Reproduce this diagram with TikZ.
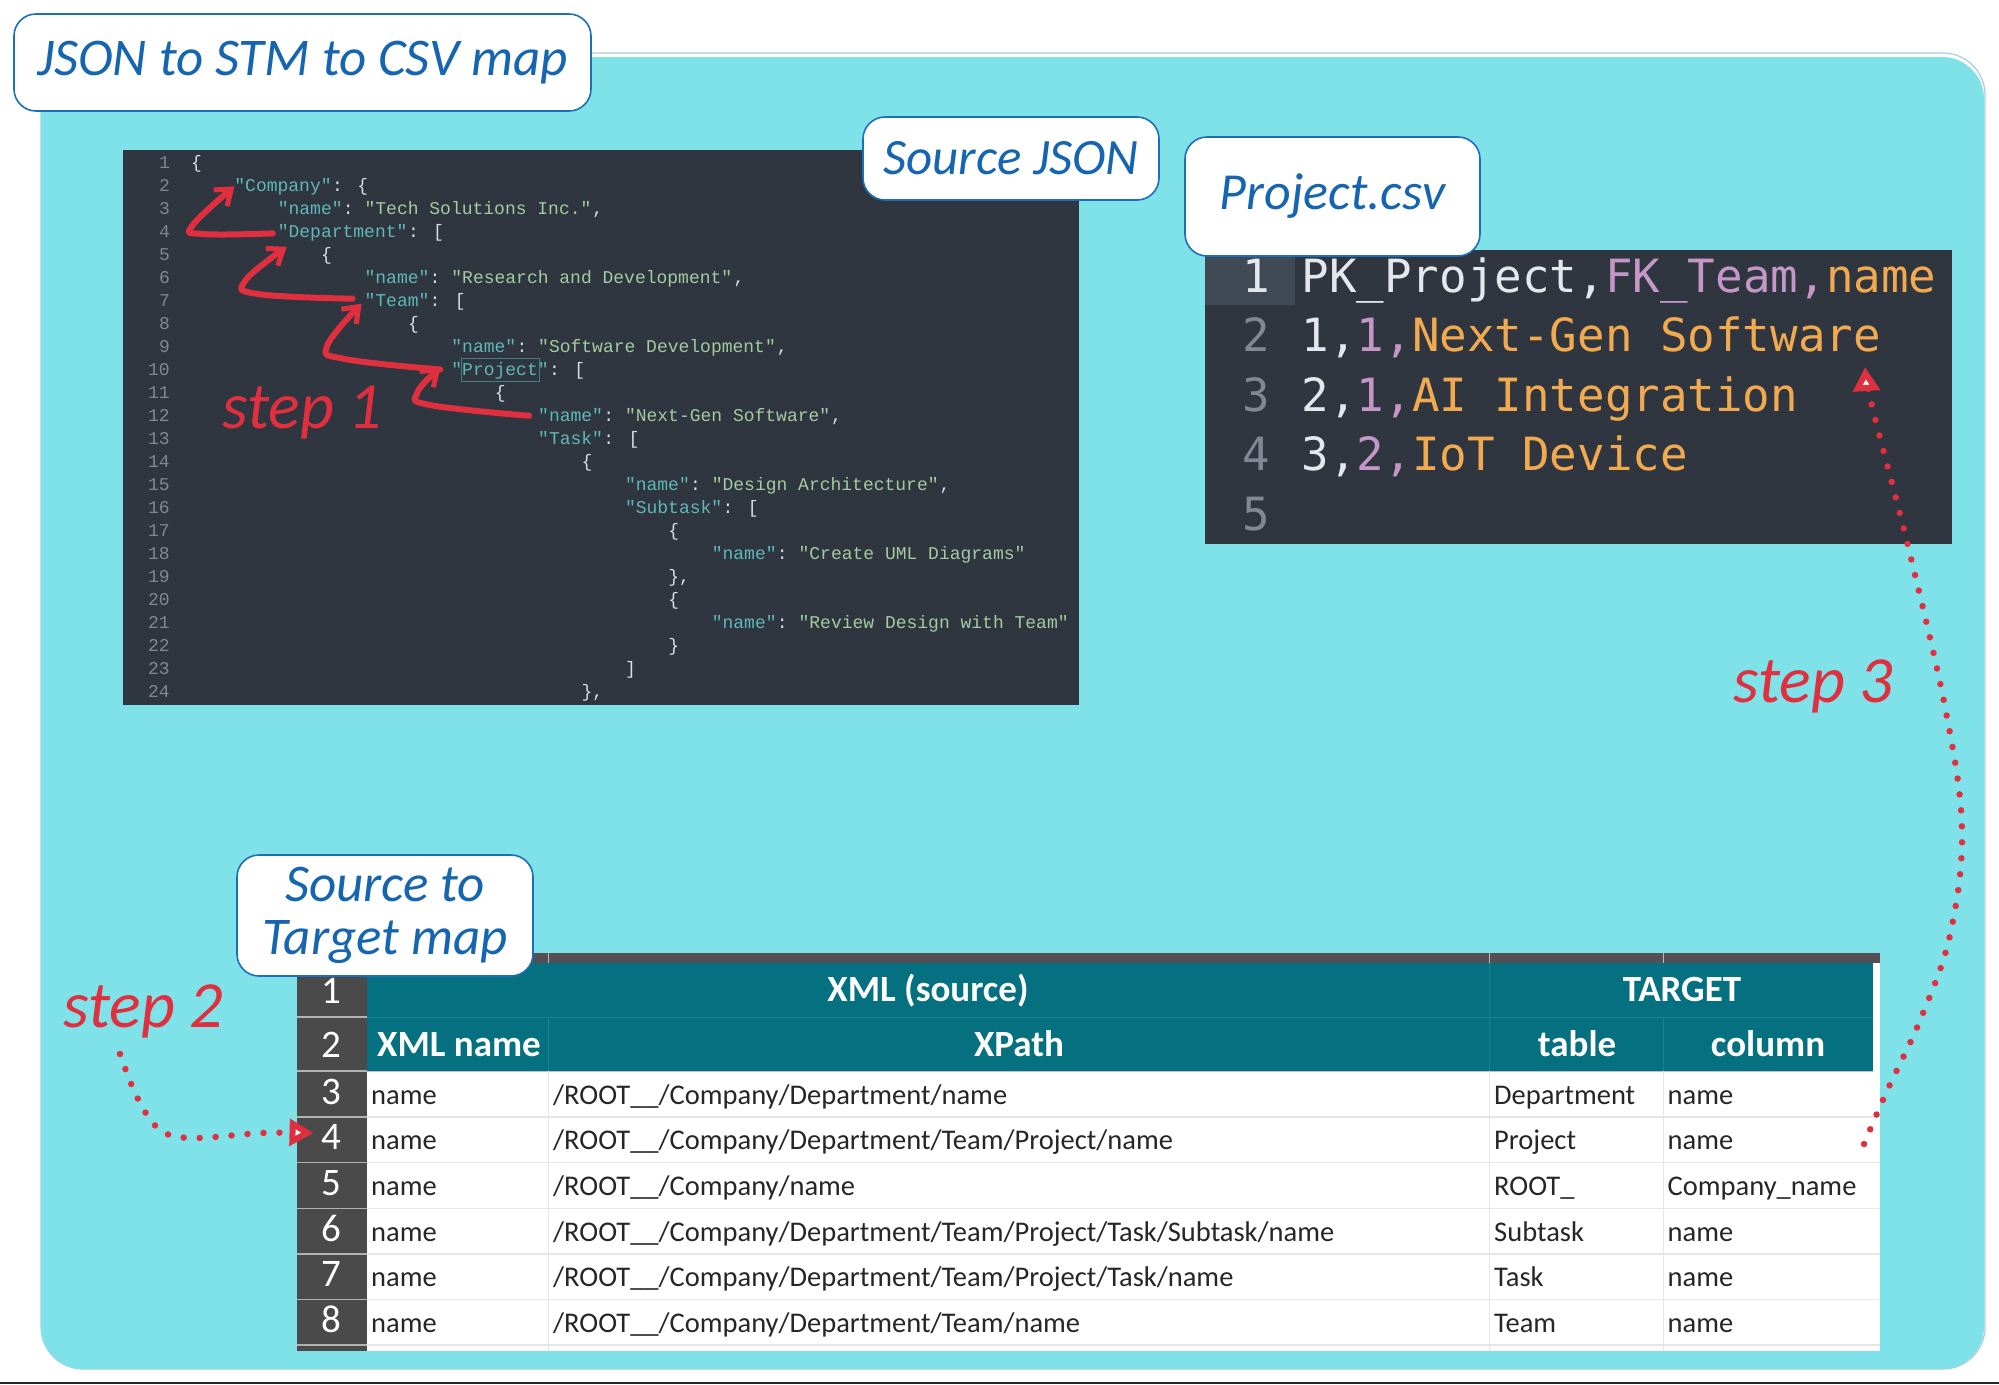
\documentclass[tikz,border=0pt]{standalone}
\usepackage{fontspec}
\usetikzlibrary{arrows.meta,calc}
\setmainfont{Carlito}
\newfontfamily\jsonfont{Liberation Mono}
\newfontfamily\csvfont{DejaVu Sans Mono}
\newcommand{\fsz}[1]{\fontsize{#1}{#1}\selectfont}
\definecolor{cyanbg}{HTML}{80E2E9}
\definecolor{edgeline}{HTML}{A9CCE0}
\definecolor{darkbg}{HTML}{2F3640}
\definecolor{gutterhi}{HTML}{3F4A55}
\definecolor{numgray}{HTML}{808893}
\definecolor{jkey}{HTML}{5FB8B8}
\definecolor{jval}{HTML}{A3CBA0}
\definecolor{jpun}{HTML}{D8DEE9}
\definecolor{cwhite}{HTML}{E4E7EC}
\definecolor{cpink}{HTML}{C597C8}
\definecolor{corange}{HTML}{F2AA50}
\definecolor{blueline}{HTML}{1B6FB8}
\definecolor{bluetext}{HTML}{1565B0}
\definecolor{redink}{HTML}{E0303F}
\definecolor{teal1}{HTML}{05707F}
\definecolor{tealsep}{HTML}{1B8090}
\definecolor{gutter}{HTML}{4A4A4A}
\definecolor{topbar}{HTML}{554E55}
\definecolor{rowsep}{HTML}{E6E6E6}
\tikzset{
  tok/.style={inner sep=0pt,outer sep=0pt,anchor=base west},
  jnum/.style={inner sep=0pt,anchor=base east,text=numgray,font=\jsonfont\fsz{18}},
  callout/.style={draw=blueline,line width=1.6pt,fill=white,rounded corners=22pt,inner sep=0pt,
     align=center,text=bluetext,font=\itshape\fsz{53}},
  stepl/.style={inner sep=0pt,anchor=base west,text=redink,font=\itshape\fsz{66}},
  redcurve/.style={draw=redink,line width=6pt,line cap=round,line join=round,-{Straight Barb[length=14pt,width=21pt,line width=5pt]}},
  reddots/.style={draw=redink,line width=6.5pt,line cap=round,dash pattern=on 0pt off 16pt,
     -{Triangle[length=24pt,width=26pt,fill=white,color=redink,line width=6pt]}},
  hdr/.style={inner sep=0pt,anchor=base,text=white,font=\bfseries\fsz{37}},
  rnum/.style={inner sep=0pt,anchor=base,text=white,font=\fsz{39}},
  cellt/.style={inner sep=0pt,anchor=base west,text=black!85,font=\fsz{28.5}},
}
% JSON token: name, line, column, colour, text
\newcommand{\jt}[5]{\node[tok,text=#4,font=\jsonfont\fsz{18}] (#1) at ({191+#3*10.85},{168+(#2-1)*23.02}) {#5};}
% CSV token: name, baseline y, column, colour, text
\newcommand{\ct}[5]{\node[tok,text=#4,font=\csvfont\fsz{45.8}] (#1) at ({1301.6+#3*27.6},#2) {#5};}
\begin{document}
\begin{tikzpicture}[x=1pt,y=-1pt]
\useasboundingbox (0,0) rectangle (1999,1384);
\fill[white] (0,0) rectangle (1999,1384);
\fill[black!85] (0,1382) rectangle (1999,1384);
% panel
\draw[edgeline,line width=1.2pt,rounded corners=42pt] (41,53) -- (1985,53) -- (1985,1369) -- (41,1369) -- cycle;
\fill[cyanbg,rounded corners=42pt] (41,57) rectangle (1984,1369);

% JSON editor
\fill[darkbg] (123,150) rectangle (1079,705);
\foreach \n in {1,...,24} \node[jnum] (jn\n) at (170,{168+(\n-1)*23.02}) {\n};
\jt{a1}{1}{0}{jpun}{\{}
\jt{kCompany}{2}{4}{jkey}{"Company"}\jt{a2}{2}{13}{jpun}{: \{}
\jt{a3}{3}{8}{jkey}{"name"}\jt{b3}{3}{14}{jpun}{:}\jt{c3}{3}{16}{jval}{"Tech Solutions Inc."}\jt{d3}{3}{37}{jpun}{,}
\jt{kDept}{4}{8}{jkey}{"Department"}\jt{a4}{4}{20}{jpun}{: [}
\jt{a5}{5}{12}{jpun}{\{}
\jt{a6}{6}{16}{jkey}{"name"}\jt{b6}{6}{22}{jpun}{:}\jt{c6}{6}{24}{jval}{"Research and Development"}\jt{d6}{6}{50}{jpun}{,}
\jt{kTeam}{7}{16}{jkey}{"Team"}\jt{a7}{7}{22}{jpun}{: [}
\jt{a8}{8}{20}{jpun}{\{}
\jt{a9}{9}{24}{jkey}{"name"}\jt{b9}{9}{30}{jpun}{:}\jt{c9}{9}{32}{jval}{"Software Development"}\jt{d9}{9}{54}{jpun}{,}
\jt{kProject}{10}{24}{jkey}{"Project"}\jt{a10}{10}{33}{jpun}{: [}
\node[draw=jkey!70!black,line width=1pt,inner sep=0pt,minimum width=78pt,minimum height=23pt] (prjbox) at (500,369.5) {};
\jt{a11}{11}{28}{jpun}{\{}
\jt{kName}{12}{32}{jkey}{"name"}\jt{b12}{12}{38}{jpun}{:}\jt{c12}{12}{40}{jval}{"Next-Gen Software"}\jt{d12}{12}{59}{jpun}{,}
\jt{a13}{13}{32}{jkey}{"Task"}\jt{b13}{13}{38}{jpun}{: [}
\jt{a14}{14}{36}{jpun}{\{}
\jt{a15}{15}{40}{jkey}{"name"}\jt{b15}{15}{46}{jpun}{:}\jt{c15}{15}{48}{jval}{"Design Architecture"}\jt{d15}{15}{69}{jpun}{,}
\jt{a16}{16}{40}{jkey}{"Subtask"}\jt{b16}{16}{49}{jpun}{: [}
\jt{a17}{17}{44}{jpun}{\{}
\jt{a18}{18}{48}{jkey}{"name"}\jt{b18}{18}{54}{jpun}{:}\jt{c18}{18}{56}{jval}{"Create UML Diagrams"}
\jt{a19}{19}{44}{jpun}{\},}
\jt{a20}{20}{44}{jpun}{\{}
\jt{a21}{21}{48}{jkey}{"name"}\jt{b21}{21}{54}{jpun}{:}\jt{c21}{21}{56}{jval}{"Review Design with Team"}
\jt{a22}{22}{44}{jpun}{\}}
\jt{a23}{23}{40}{jpun}{]}
\jt{a24}{24}{36}{jpun}{\},}

% CSV editor
\fill[darkbg] (1205,250) rectangle (1952,544);
\fill[gutterhi] (1205,250) rectangle (1295,305);
\node[inner sep=0pt,anchor=base,text=cwhite,font=\csvfont\fsz{45.8}] (cn1) at (1256,292) {1};
\foreach \n/\y in {2/351,3/411,4/470.6,5/530}
  \node[inner sep=0pt,anchor=base,text=numgray,font=\csvfont\fsz{45.8}] (cn\n) at (1256,\y) {\n};
\ct{c1a}{292}{0}{cwhite}{PK\_Project,}\ct{c1b}{292}{11}{cpink}{FK\_Team,}\ct{c1c}{292}{19}{corange}{name}
\ct{c2a}{351}{0}{cwhite}{1,}\ct{c2b}{351}{2}{cpink}{1,}\ct{c2c}{351}{4}{corange}{Next-Gen Software}
\ct{c3a}{411}{0}{cwhite}{2,}\ct{c3b}{411}{2}{cpink}{1,}\ct{c3c}{411}{4}{corange}{AI Integration}
\ct{c4a}{470.6}{0}{cwhite}{3,}\ct{c4b}{470.6}{2}{cpink}{2,}\ct{c4c}{470.6}{4}{corange}{IoT Device}

% Table
\fill[topbar] (297,953) rectangle (1880,963);
\fill[white] (367,1071) rectangle (1880,1351);
\fill[white] (1873,963) rectangle (1880,1071);
\fill[teal1] (367,963) rectangle (1873,1071);
\fill[gutter] (297,963) rectangle (367,1351);
\foreach \y in {1117,1162.5,1208.5,1254,1299.5,1345}
  \draw[rowsep,line width=1.5pt] (367,\y) -- (1880,\y);
\draw[tealsep,line width=1pt] (367,1017) -- (1873,1017);
\foreach \y in {1017,1071,1117,1162.5,1208.5,1254,1299.5,1345}
  \draw[black!30,line width=1.2pt] (297,\y) -- (367,\y);
\draw[black!25,line width=1pt] (367,1071) -- (1873,1071);
\foreach \x in {548.5,1489.5,1663} {
  \draw[rowsep,line width=1pt] (\x,1071) -- (\x,1351);
  \draw[white!60!topbar,line width=1pt] (\x,953) -- (\x,963);
}
\draw[tealsep,line width=.8pt] (1489.5,963) -- (1489.5,1071);
\draw[tealsep,line width=.8pt] (1663,1017) -- (1663,1071);
\draw[tealsep,line width=.8pt] (548.5,1017) -- (548.5,1071);
\node[hdr] (hxml) at (928,1001.6) {XML (source)};
\node[hdr] (htgt) at (1682,1001.6) {TARGET};
\node[inner sep=0pt,anchor=base west,text=white,font=\bfseries\fsz{37}] (hname) at (377,1056.7) {XML name};
\node[hdr] (hxp) at (1019,1056.7) {XPath};
\node[hdr] (htab) at (1577,1056.7) {table};
\node[hdr] (hcol) at (1768,1056.7) {column};
\foreach \n/\y in {1/1003,2/1057,3/1104,4/1149.5,5/1195,6/1241,7/1286.5,8/1332}
  \node[rnum] (rn\n) at (331.6,\y) {\n};
\foreach \n/\y/\p/\t/\c in {
  3/1104/{/ROOT\_\_/Company/Department/name}/Department/name,
  4/1149.7/{/ROOT\_\_/Company/Department/Team/Project/name}/Project/name,
  5/1195.4/{/ROOT\_\_/Company/name}/{ROOT\_}/{Company\_name},
  6/1241.1/{/ROOT\_\_/Company/Department/Team/Project/Task/Subtask/name}/Subtask/name,
  7/1286.8/{/ROOT\_\_/Company/Department/Team/Project/Task/name}/Task/name,
  8/1332.5/{/ROOT\_\_/Company/Department/Team/name}/Team/name} {
  \node[cellt] (cn\n) at (371,\y) {name};
  \node[cellt] (cp\n) at (553,\y) {\p};
  \node[cellt] (ct\n) at (1494,\y) {\t};
  \node[cellt] (cc\n) at (1667.5,\y) {\c};
}

% Callouts
\node[callout,minimum width=577pt,minimum height=97pt] (title) at (302.5,62.5) {JSON to STM to CSV map};
\node[callout,minimum width=296pt,minimum height=83pt,font=\itshape\fsz{51}] (lsrc) at (1011,158.5) {Source JSON};
\node[callout,minimum width=295pt,minimum height=119pt,font=\itshape\fsz{52}] (lcsv) at (1332.5,196.5) {Project.csv};
\node[callout,minimum width=296pt,minimum height=121pt,font=\itshape\fontsize{53}{53}\selectfont] (lmap) at (385,915.5) {Source to\\Target map};

% Step labels
\node[stepl] (s1) at (222,428) {step 1};
\node[stepl] (s2) at (63,1027) {step 2};
\node[stepl] (s3) at (1733,702) {step 3};

% Step 1 arrows
\coordinate (ab1) at (203,234);
\coordinate (ab2) at (192,226);
\draw[redcurve] plot[smooth,tension=.7] coordinates {($(kDept.west)+(-5,1)$) (ab1) (ab2) (kCompany.west)};
\coordinate (bb1) at (258,294);
\coordinate (bb2) at (245,281);
\draw[redcurve] plot[smooth,tension=.7] coordinates {($(kTeam.west)+(-12,-1)$) (bb1) (bb2) ($(kDept.south west)+(9,6)$)};
\coordinate (cb1) at (345,359);
\coordinate (cb2) at (327,346);
\draw[redcurve] plot[smooth,tension=.7] coordinates {($(kProject.west)+(-11,-1)$) (cb1) (cb2) ($(kTeam.west)+(-3,4)$)};
\coordinate (db1) at (430,405);
\coordinate (db2) at (417,393);
\draw[redcurve] plot[smooth,tension=.7] coordinates {($(kName.west)+(-9,1)$) (db1) (db2) ($(kProject.west)+(-11,-3)$)};

% Step 2 dotted arrow
\coordinate (s2start) at (120,1054);
\coordinate (s2a) at (137,1097);
\coordinate (s2b) at (159,1129);
\coordinate (s2c) at (191,1138);
\coordinate (s2d) at (262,1133);
\draw[reddots] plot[smooth,tension=.6] coordinates {(s2start) (s2a) (s2b) (s2c) (s2d) ($(rn4.west)+(-8,-4)$)};

% Step 3 dotted arrow
\coordinate (s3start) at (1864,1144);
\coordinate (s3a) at (1886,1093);
\coordinate (s3b) at (1921,1018);
\coordinate (s3c) at (1950,935);
\coordinate (s3d) at (1962,831);
\coordinate (s3e) at (1946,712);
\coordinate (s3f) at (1908,546);
\coordinate (s3g) at (1873,410);
\coordinate (s3tip) at (1865,367);
\draw[reddots] plot[smooth,tension=.6] coordinates {(s3start) (s3a) (s3b) (s3c) (s3d) (s3e) (s3f) (s3g) (s3tip)};
\end{tikzpicture}
\end{document}
